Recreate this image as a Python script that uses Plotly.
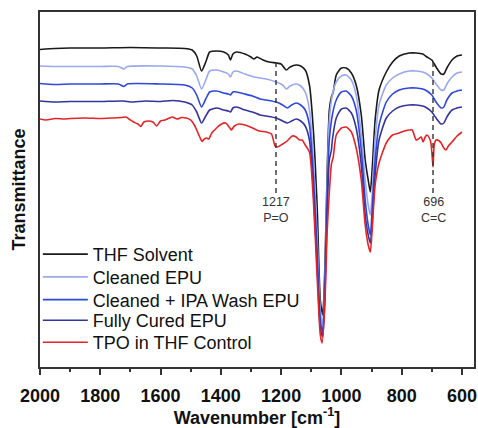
import numpy as np
import plotly.graph_objects as go

# ---- data (wavenumber in cm^-1, transmittance in arbitrary offset units) ----
thf_wn = [2000, 1950, 1900, 1800, 1700, 1600, 1520, 1495, 1480, 1464, 1450, 1437, 1414, 1390, 1375, 1368,
          1360, 1348, 1320, 1300, 1290, 1280, 1260, 1240, 1216, 1200, 1183, 1170, 1150, 1135, 1120, 1106,
          1093, 1080, 1070, 1062, 1055, 1047, 1040, 1033, 1027, 1017, 1000, 984, 967, 951, 934, 921, 911,
          904, 898, 888, 875, 851, 830, 808, 775, 752, 730, 716, 700, 686, 669, 660, 650, 633, 616, 600]
thf_t = [317.5, 318.5, 319, 319, 319.5, 319, 318.5, 317, 311, 296, 305, 315, 316, 315, 312, 307,
         313, 315, 313, 310, 308, 310, 307, 305, 304, 303, 297, 300, 302, 301, 297, 282,
         237, 157, 67, 52, 97, 197, 257, 270, 275, 292, 299, 299, 294, 282, 252, 207, 187,
         175, 197, 247, 277, 295, 305, 311, 314, 314, 313, 310, 307, 300, 293, 293, 299, 307, 311, 312]

clean_wn = [2000, 1950, 1900, 1800, 1740, 1722, 1710, 1600, 1520, 1495, 1480, 1464, 1450, 1437, 1414, 1390,
            1375, 1368, 1360, 1348, 1320, 1300, 1290, 1270, 1249, 1216, 1195, 1183, 1170, 1150, 1135, 1120,
            1106, 1093, 1080, 1070, 1062, 1055, 1047, 1040, 1030, 1017, 1000, 984, 967, 951, 934, 921, 911,
            904, 898, 888, 875, 851, 830, 808, 775, 752, 730, 716, 700, 686, 669, 660, 650, 633, 616, 600]
clean_t = [301, 300.5, 300.5, 300.5, 300.5, 298, 300.5, 301, 300, 298, 291, 278, 287, 296, 297, 295,
           293, 290, 295, 296, 293, 291, 290, 289, 288, 285, 282, 278, 281, 283, 281, 275,
           257, 207, 127, 57, 42, 87, 187, 247, 272, 285, 291, 292, 287, 272, 232, 187, 162,
           152, 172, 227, 262, 282, 289, 293, 296, 296, 295, 293, 289, 283, 277, 277, 283, 290, 294, 295]

ipa_wn = [2000, 1950, 1900, 1800, 1740, 1722, 1710, 1600, 1520, 1495, 1480, 1464, 1450, 1437, 1414, 1390,
          1375, 1368, 1360, 1348, 1320, 1295, 1270, 1249, 1216, 1195, 1179, 1165, 1150, 1135, 1120, 1106,
          1093, 1080, 1070, 1062, 1055, 1047, 1040, 1030, 1017, 1000, 984, 967, 951, 934, 921, 911,
          904, 898, 888, 875, 851, 830, 808, 775, 752, 730, 716, 700, 686, 669, 660, 650, 633, 616, 600]
ipa_t = [283.5, 282.5, 283, 283, 283, 280.5, 283, 283, 282, 279, 272, 260, 268, 275, 276, 274,
         273, 272, 275, 275, 273, 271, 268, 267, 265, 262, 259, 262, 264, 262, 257, 242,
         192, 112, 47, 35, 77, 172, 227, 252, 267, 275, 276, 271, 257, 217, 167, 142,
         132, 157, 207, 242, 265, 273, 277, 279, 279, 278, 276, 272, 265, 259, 260, 267, 274, 276, 277]

cured_wn = [2000, 1950, 1900, 1800, 1722, 1700, 1650, 1600, 1560, 1520, 1495, 1480, 1464, 1450, 1437, 1414,
            1390, 1375, 1368, 1360, 1348, 1320, 1295, 1270, 1249, 1216, 1195, 1179, 1165, 1150, 1135, 1120,
            1106, 1093, 1080, 1070, 1062, 1055, 1047, 1040, 1033, 1030, 1017, 1000, 984, 967, 951, 934,
            921, 911, 904, 898, 888, 875, 851, 830, 808, 775, 752, 730, 716, 700, 686, 669, 660, 650,
            633, 616, 600]
cured_t = [266, 265, 265.5, 265.5, 266, 265, 266, 265.5, 266.5, 265, 262, 255, 244, 251, 257, 259,
           257, 256, 255, 259, 260, 257, 255, 252, 251, 249, 246, 244, 246, 248, 246, 241,
           227, 177, 97, 39, 30, 67, 157, 207, 217, 227, 249, 258, 259, 254, 239, 202,
           152, 132, 124, 142, 192, 227, 249, 256, 260, 262, 262, 261, 259, 255, 249, 243, 244, 250,
           257, 259, 260]

tpo_wn = [2000, 1980, 1950, 1920, 1900, 1850, 1800, 1760, 1730, 1715, 1705, 1690, 1675, 1666, 1655, 1640,
          1625, 1613, 1600, 1585, 1570, 1560, 1545, 1530, 1515, 1500, 1488, 1480, 1470, 1462, 1455, 1448,
          1440, 1430, 1414, 1398, 1384, 1370, 1365, 1355, 1340, 1320, 1295, 1272, 1249, 1232, 1220, 1212,
          1200, 1180, 1163, 1150, 1139, 1130, 1120, 1106, 1093, 1080, 1070, 1064, 1055, 1047, 1040, 1033,
          1027, 1017, 1000, 984, 967, 951, 934, 921, 911, 904, 898, 888, 875, 851, 830, 808, 790, 775,
          765, 752, 745, 735, 729, 722, 716, 708, 702, 696, 692, 686, 675, 669, 660, 653, 645, 633, 616, 600]
tpo_t = [248, 247, 248.5, 248, 248.5, 249, 248.5, 249, 249.5, 250, 248, 245, 243, 240.5, 245, 246,
         245, 241, 246, 247, 249, 250, 248, 249.5, 249, 247, 242, 237, 230, 225.5, 228, 229,
         228, 234, 239, 243, 244, 239, 237, 241, 243, 242, 239, 236, 235, 233, 221, 220,
         222, 226, 231, 230, 227, 227, 222, 215, 167, 87, 32, 24, 62, 137, 175, 203,
         210, 232, 239, 240, 235, 219, 187, 142, 122, 115, 137, 182, 204, 224, 232, 234, 236, 237,
         237, 227, 228, 230, 225, 230, 232, 229, 222, 200, 222, 227, 226, 224, 219, 217, 221, 225, 231, 235]

series_names = ["THF Solvent", "Cleaned EPU", "Cleaned + IPA Wash EPU", "Fully Cured EPU", "TPO in THF Control"]
series_colors = ["#1a1a1a", "#9aa8f2", "#3047dc", "#34349e", "#e52525"]
series_wn = [thf_wn, clean_wn, ipa_wn, cured_wn, tpo_wn]
series_t = [thf_t, clean_t, ipa_t, cured_t, tpo_t]

peak_wn = [1217, 696]
peak_text = ["1217<br>P=O", "696<br>C=C"]
label_level = 174

# legend rows (paper y of each row centre)
legend_rows = [0.317, 0.253, 0.189, 0.131, 0.069]
legend_ids = ["legend", "legend2", "legend3", "legend4", "legend5"]

fig = go.Figure()
for name, col, wn, t, lid in zip(series_names, series_colors, series_wn, series_t, legend_ids):
    fig.add_trace(go.Scatter(x=wn, y=t, mode="lines", name=name, legend=lid,
                             line=dict(color=col, width=1.6, shape="spline", smoothing=0.6)))

for pw, txt in zip(peak_wn, peak_text):
    top = float(np.interp(pw, thf_wn[::-1], thf_t[::-1]))
    fig.add_shape(type="line", x0=pw, x1=pw, y0=label_level, y1=top,
                  line=dict(color="#333333", width=1.4, dash="5px,4px"))
    fig.add_annotation(x=pw, y=label_level, text=txt, showarrow=False, yanchor="top",
                       font=dict(family="Arial, Liberation Sans, sans-serif", size=12.5, color="#333333"))

legend_common = dict(x=-0.005, xanchor="left", yanchor="middle", bgcolor="rgba(0,0,0,0)",
                     font=dict(size=18, color="#111111"), borderwidth=0, itemwidth=45)
legend_layout = {lid: dict(y=ry, **legend_common) for lid, ry in zip(legend_ids, legend_rows)}

fig.update_layout(
    width=478, height=428,
    margin=dict(l=40, r=4, t=12, b=61, autoexpand=False),
    paper_bgcolor="white", plot_bgcolor="white",
    font=dict(family="Arial, Liberation Sans, sans-serif", color="#111111"),
    showlegend=True,
    xaxis=dict(range=[2000, 560], tick0=0, dtick=200, ticks="outside", ticklen=6, tickwidth=1.5,
               tickcolor="#333333", showline=True, linecolor="#333333", linewidth=1.5, mirror=True,
               showgrid=False, zeroline=False, ticklabelstandoff=6, automargin=False,
               tickfont=dict(size=18, weight="bold", color="#111111"),
               minor=dict(dtick=100, ticks="outside", ticklen=3, tickwidth=1.5, tickcolor="#333333",
                          showgrid=False),
               title=dict(text="Wavenumber [cm<sup>-1</sup>]", font=dict(size=18, weight="bold"), standoff=24)),
    yaxis=dict(range=[0, 355], showticklabels=False, ticks="", showline=True, linecolor="#333333",
               linewidth=1.5, mirror=True, showgrid=False, zeroline=False, automargin=False,
               title=dict(text="Transmittance", font=dict(size=18, weight="bold"), standoff=8)),
    **legend_layout,
)

fig.write_html("out.html", config={"displayModeBar": False},
               post_script="document.body.style.margin='0';")
